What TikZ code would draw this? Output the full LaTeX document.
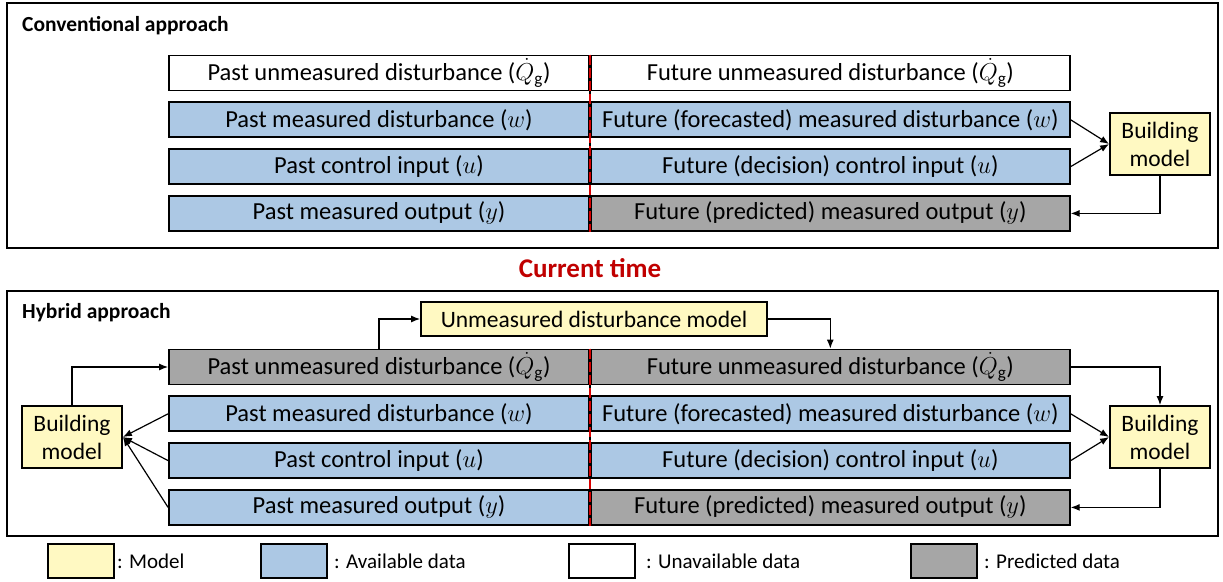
\documentclass[tikz,border=0pt]{standalone}
\usepackage{fix-cm}
\usepackage{amsmath}
\usepackage{fontspec}
\setmainfont{Carlito}
\usepackage{pgf,tikz}
\usetikzlibrary{shapes, arrows.meta, positioning}
\definecolor{modelyellow}{RGB}{255,249,194}
\definecolor{availblue}{RGB}{172,200,228}
\definecolor{predgray}{RGB}{166,166,166}
\definecolor{nowred}{RGB}{192,0,0}
\tikzstyle{frame} = [draw=black, line width=2pt]
\tikzstyle{approach} = [anchor=west, inner sep=0pt, font=\fontsize{21.5}{25}\selectfont\bfseries]
\tikzstyle{databox} = [draw=black, line width=1.8pt, rectangle, minimum height=35pt, inner sep=0pt, font=\fontsize{24.5}{29}\selectfont]
\tikzstyle{past} = [databox, minimum width=420pt]
\tikzstyle{future} = [databox, minimum width=479pt]
\tikzstyle{model} = [draw=black, line width=1.8pt, fill=modelyellow, rectangle, align=center, inner sep=0pt, font=\fontsize{23.5}{28}\selectfont]
\tikzstyle{link} = [line width=1.2pt, -{Latex[length=9pt,width=7pt]}]
\tikzstyle{keybox} = [draw=black, line width=1.8pt, minimum width=66pt, minimum height=34pt]
\tikzstyle{keytext} = [anchor=west, inner sep=0pt, font=\fontsize{21}{25}\selectfont]

\begin{document}
\begin{tikzpicture}[x=1pt, y=-1pt]
	\useasboundingbox (0,0) rectangle (1223,581);
	\draw[frame] (7,3) rectangle (1218,248);
	\node[approach] (convtitle) at (22,26) {Conventional approach};
	\node[past, fill=white] (cp1) at (379,73) {Past unmeasured disturbance ($\dot{Q}_{\mathrm{g}}$)};
	\node[future, fill=white, right=0pt of cp1] (cf1) {Future unmeasured disturbance ($\dot{Q}_{\mathrm{g}}$)};
	\node[past, fill=availblue, below=10pt of cp1] (cp2) {Past measured disturbance ($w$)};
	\node[future, fill=availblue, right=0pt of cp2] (cf2) {Future (forecasted) measured disturbance ($w$)};
	\node[past, fill=availblue, below=10pt of cp2] (cp3) {Past control input ($u$)};
	\node[future, fill=availblue, right=0pt of cp3] (cf3) {Future (decision) control input ($u$)};
	\node[past, fill=availblue, below=10pt of cp3] (cp4) {Past measured output ($y$)};
	\node[future, fill=predgray, right=0pt of cp4] (cf4) {Future (predicted) measured output ($y$)};
	\draw[black, line width=2pt] (cp1.north east) -- (cp4.south east);
	\draw[red!85!black, line width=2.2pt, dash pattern=on 10pt off 3pt] (cp1.north east) -- (cp4.south east);
	\node[model, minimum width=100pt, minimum height=62pt] (cbm) at (1160,144) {Building\\model};
	\draw[link] (cf2.east) -- (cbm.west);
	\draw[link] (cf3.east) -- (cbm.west);
	\draw[link] (cbm.south) |- (cf4.east);

	\node[font=\fontsize{27}{32}\selectfont\bfseries, text=nowred] (now) at (590,268) {Current time};

	\draw[frame] (7,291) rectangle (1218,536);
	\node[approach] (hybtitle) at (22,313) {Hybrid approach};
	\node[past, fill=predgray] (hp1) at (379,367) {Past unmeasured disturbance ($\dot{Q}_{\mathrm{g}}$)};
	\node[future, fill=predgray, right=0pt of hp1] (hf1) {Future unmeasured disturbance ($\dot{Q}_{\mathrm{g}}$)};
	\node[past, fill=availblue, below=10pt of hp1] (hp2) {Past measured disturbance ($w$)};
	\node[future, fill=availblue, right=0pt of hp2] (hf2) {Future (forecasted) measured disturbance ($w$)};
	\node[past, fill=availblue, below=10pt of hp2] (hp3) {Past control input ($u$)};
	\node[future, fill=availblue, right=0pt of hp3] (hf3) {Future (decision) control input ($u$)};
	\node[past, fill=availblue, below=10pt of hp3] (hp4) {Past measured output ($y$)};
	\node[future, fill=predgray, right=0pt of hp4] (hf4) {Future (predicted) measured output ($y$)};
	\draw[black, line width=2pt] (hp1.north east) -- (hp4.south east);
	\draw[red!85!black, line width=2.2pt, dash pattern=on 10pt off 3pt] (hp1.north east) -- (hp4.south east);
	\node[model, minimum width=346pt, minimum height=34pt] (udm) at (594,319) {Unmeasured disturbance model};
	\node[model, minimum width=100pt, minimum height=62pt] (lbm) at (72,437) {Building\\model};
	\node[model, minimum width=100pt, minimum height=62pt] (rbm) at (1160,437) {Building\\model};
	\draw[link] (hp1.north) |- (udm.west);
	\draw[link] (udm.east) -| (hf1.north);
	\draw[link] (lbm.north) |- (hp1.west);
	\draw[link] (hp2.west) -- (lbm.east);
	\draw[link] (hp3.west) -- (lbm.east);
	\draw[link] (hp4.west) -- (lbm.east);
	\draw[link] (hf1.east) -| (rbm.north);
	\draw[link] (hf2.east) -- (rbm.west);
	\draw[link] (hf3.east) -- (rbm.west);
	\draw[link] (rbm.south) |- (hf4.east);

	\node[keybox, fill=modelyellow] (keymodel) at (81,561) {};
	\node[keytext] (keymodeltext) at (117,561) {: Model};
	\node[keybox, fill=availblue] (keyavail) at (294,561) {};
	\node[keytext] (keyavailtext) at (334,561) {: Available data};
	\node[keybox, fill=white] (keyunavail) at (602,561) {};
	\node[keytext] (keyunavailtext) at (646,561) {: Unavailable data};
	\node[keybox, fill=predgray] (keypred) at (944,561) {};
	\node[keytext] (keypredtext) at (984,561) {: Predicted data};
\end{tikzpicture}
\end{document}
